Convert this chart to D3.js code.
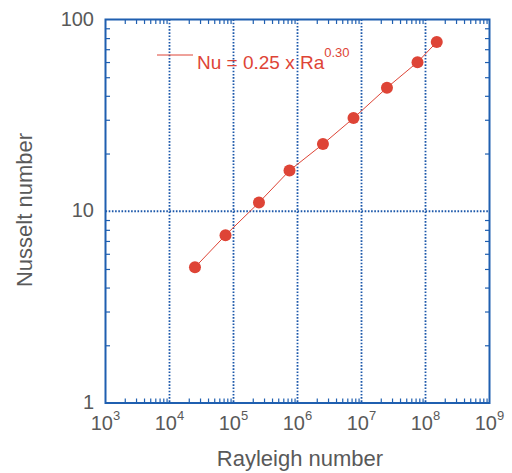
<!DOCTYPE html>
<html>
    <head>
        <meta charset="utf-8">
        <title>Nusselt vs Rayleigh</title>
        <script src="https://d3js.org/d3.v7.min.js"></script>
        <style>
            body { margin: 0; background: #fff; }
            text { font-family: "Liberation Sans", Arial, sans-serif; }
        </style>
    </head>
    <body>
        <script>
            // data
            const rayleigh = [2.5e4, 7.5e4, 2.5e5, 7.5e5, 2.5e6, 7.5e6, 2.5e7, 7.5e7, 1.5e8];
            const nusselt  = [5.1, 7.5, 11.1, 16.3, 22.4, 30.6, 44.1, 59.9, 76.3];
            const xExponents = [3, 4, 5, 6, 7, 8, 9];
            const yTicks = [1, 10, 100];
            const fitLabel = "Nu = 0.25 x Ra";
            const fitExponent = "0.30";

            const points = rayleigh.map((r, i) => ({ ra: r, nu: nusselt[i] }));

            const blue = "#1f5fb0";
            const red = "#de4436";
            const grey = "#595959";

            const svg = d3.select("body").append("svg")
                .attr("width", 512)
                .attr("height", 473)
            ;

            const x = d3.scaleLog().domain([1e3, 1e9]).range([105.5, 489.5]);
            const y = d3.scaleLog().domain([1, 100]).range([403, 19.5]);
            const [x0, x1] = x.range();
            const [y0, y1] = y.range();

            // dotted grid at the decades
            const grid = svg.append("g")
                .attr("stroke", "#1c58aa")
                .attr("stroke-width", 1.8)
                .attr("stroke-dasharray", "1.6,1.6")
            ;
            grid.selectAll("line.gx")
                .data(xExponents.slice(1, -1).map(e => Math.pow(10, e)))
                .join("line")
                .attr("class", "gx")
                .attr("x1", d => x(d)).attr("x2", d => x(d))
                .attr("y1", y1).attr("y2", y0)
            ;
            grid.selectAll("line.gy")
                .data(yTicks.slice(1, -1))
                .join("line")
                .attr("class", "gy")
                .attr("x1", x0).attr("x2", x1)
                .attr("y1", d => y(d)).attr("y2", d => y(d))
            ;

            // minor ticks on all four sides, pointing in
            const isDecade = v => Math.abs(Math.log10(v) - Math.round(Math.log10(v))) < 1e-9;
            const xMinor = x.ticks().filter(v => !isDecade(v));
            const yMinor = y.ticks().filter(v => !isDecade(v));
            const tlen = 4.5;

            svg.append("g")
                .attr("transform", `translate(0,${y0})`)
                .call(d3.axisBottom(x).tickValues(xMinor).tickSize(-tlen).tickFormat(""))
                .call(g => g.select(".domain").remove())
                .call(g => g.selectAll("line").attr("stroke", blue).attr("stroke-width", 1.2))
            ;
            svg.append("g")
                .attr("transform", `translate(0,${y1})`)
                .call(d3.axisTop(x).tickValues(xMinor).tickSize(-tlen).tickFormat(""))
                .call(g => g.select(".domain").remove())
                .call(g => g.selectAll("line").attr("stroke", blue).attr("stroke-width", 1.2))
            ;
            svg.append("g")
                .attr("transform", `translate(${x0},0)`)
                .call(d3.axisLeft(y).tickValues(yMinor).tickSize(-tlen).tickFormat(""))
                .call(g => g.select(".domain").remove())
                .call(g => g.selectAll("line").attr("stroke", blue).attr("stroke-width", 1.2))
            ;
            svg.append("g")
                .attr("transform", `translate(${x1},0)`)
                .call(d3.axisRight(y).tickValues(yMinor).tickSize(-tlen).tickFormat(""))
                .call(g => g.select(".domain").remove())
                .call(g => g.selectAll("line").attr("stroke", blue).attr("stroke-width", 1.2))
            ;

            // frame
            svg.append("rect")
                .attr("x", x0).attr("y", y1)
                .attr("width", x1 - x0).attr("height", y0 - y1)
                .attr("fill", "none")
                .attr("stroke", blue)
                .attr("stroke-width", 2)
            ;

            // tick labels
            const xl = svg.append("g").attr("fill", grey).attr("font-size", 20);
            xExponents.forEach(e => {
                const t = xl.append("text")
                    .attr("x", x(Math.pow(10, e)))
                    .attr("y", 430)
                    .attr("text-anchor", "middle")
                ;
                t.append("tspan").text("10");
                t.append("tspan").attr("dy", -10).attr("font-size", 13).text(e);
            });
            svg.append("g").attr("fill", grey).attr("font-size", 20)
                .selectAll("text")
                .data(yTicks)
                .join("text")
                .attr("x", 94)
                .attr("y", d => y(d) + 6)
                .attr("text-anchor", "end")
                .text(d => d)
            ;

            // axis titles
            svg.append("text")
                .attr("x", 300).attr("y", 466)
                .attr("text-anchor", "middle")
                .attr("fill", grey)
                .attr("font-size", 22)
                .text("Rayleigh number")
            ;
            svg.append("text")
                .attr("transform", `translate(32,210) rotate(-90)`)
                .attr("text-anchor", "middle")
                .attr("fill", grey)
                .attr("font-size", 22)
                .text("Nusselt number")
            ;

            // data line and points
            svg.append("path")
                .datum(points)
                .attr("fill", "none")
                .attr("stroke", red)
                .attr("stroke-width", 1)
                .attr("d", d3.line().x(d => x(d.ra)).y(d => y(d.nu)))
            ;
            svg.append("g")
                .selectAll("circle")
                .data(points)
                .join("circle")
                .attr("cx", d => x(d.ra))
                .attr("cy", d => y(d.nu))
                .attr("r", 6)
                .attr("fill", red)
            ;

            // legend
            svg.append("line")
                .attr("x1", 157).attr("x2", 193)
                .attr("y1", 55).attr("y2", 55)
                .attr("stroke", red).attr("stroke-width", 1)
            ;
            const lt = svg.append("text")
                .attr("x", 197).attr("y", 69)
                .attr("fill", red)
                .attr("font-size", 19)
            ;
            lt.append("tspan").text(fitLabel);
            lt.append("tspan").attr("dy", -12).attr("font-size", 13).text(fitExponent);
        </script>
    </body>
</html>
